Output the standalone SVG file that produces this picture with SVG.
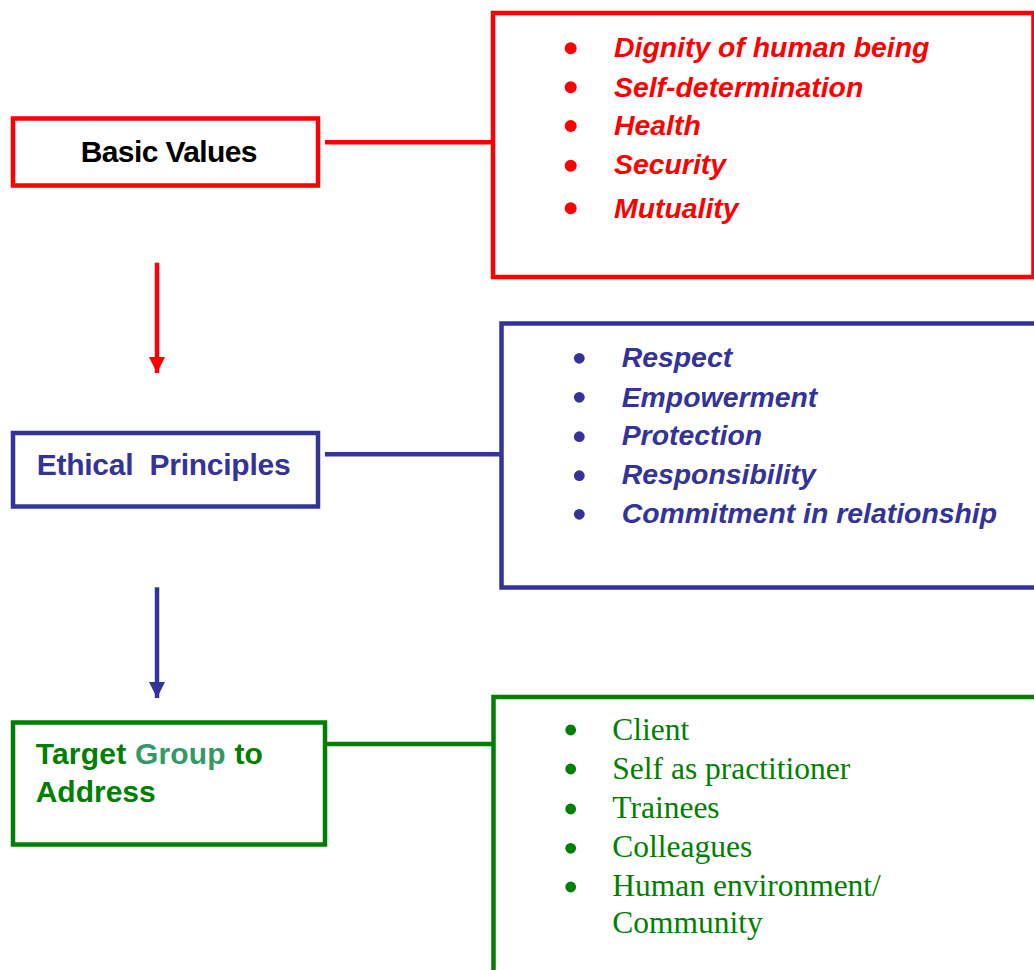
<svg xmlns="http://www.w3.org/2000/svg" width="1034" height="970" viewBox="0 0 1034 970">
<style>
.box{fill:#fff;stroke-width:4.5}
.red{stroke:#ff0000}
.blue{stroke:#333399}
.green{stroke:#008000}
.lbl{font-family:"Liberation Sans",Arial,sans-serif;font-weight:bold;font-size:30px}
.ital{font-family:"Liberation Sans",Arial,sans-serif;font-weight:bold;font-style:italic;font-size:28.4px}
.serif{font-family:"Liberation Serif","Times New Roman",serif;font-size:31.5px;fill:#008000}
.conn{fill:none;stroke-width:4.5}
</style>
<defs>
<marker id="arrRed" viewBox="0 0 16 16" refX="16" refY="8" markerWidth="16" markerHeight="16" markerUnits="userSpaceOnUse" orient="auto"><path d="M0,0 L16,8 L0,16 Z" fill="#ff0000"/></marker>
<marker id="arrBlue" viewBox="0 0 16 16" refX="16" refY="8" markerWidth="16" markerHeight="16" markerUnits="userSpaceOnUse" orient="auto"><path d="M0,0 L16,8 L0,16 Z" fill="#333399"/></marker>
</defs>
<rect width="1034" height="970" fill="#fff"/>
<g id="connectors">
<line class="conn red" x1="325" y1="142.3" x2="493" y2="142.3"/>
<line class="conn blue" x1="325" y1="454.3" x2="501" y2="454.3"/>
<line class="conn green" x1="327" y1="744" x2="493" y2="744"/>
<line class="conn red" x1="157" y1="262.7" x2="157" y2="373" marker-end="url(#arrRed)"/>
<line class="conn blue" x1="157" y1="587.3" x2="157" y2="698" marker-end="url(#arrBlue)"/>
</g>
<g id="basic-values">
<rect class="box red" x="13" y="118.5" width="305" height="67"/>
<text class="lbl" x="80.7" y="161.7" fill="#000" letter-spacing="-0.6">Basic Values</text>
</g>
<g id="values-list">
<rect class="box red" x="493" y="13" width="540.5" height="264"/>
<g fill="#ff0000">
<circle cx="570.7" cy="48.3" r="6"/>
<circle cx="570.7" cy="87.3" r="6"/>
<circle cx="570.7" cy="126" r="6"/>
<circle cx="570.7" cy="165.7" r="6"/>
<circle cx="570.7" cy="208.3" r="6"/>
</g>
<g class="ital" fill="#ff0000">
<text x="614" y="57.3">Dignity of human being</text>
<text x="614" y="96.7">Self-determination</text>
<text x="614" y="135">Health</text>
<text x="614" y="173.5">Security</text>
<text x="614" y="218">Mutuality</text>
</g>
</g>
<g id="ethical-principles">
<rect class="box blue" x="13" y="433" width="305" height="73.5"/>
<text class="lbl" x="36.7" y="475" fill="#333399" letter-spacing="-0.25" style="white-space:pre">Ethical  Principles</text>
</g>
<g id="principles-list">
<rect class="box blue" x="501.5" y="323.5" width="600" height="264"/>
<g fill="#333399">
<circle cx="579.3" cy="358.3" r="5.4"/>
<circle cx="579.3" cy="397.3" r="5.4"/>
<circle cx="579.3" cy="436.7" r="5.4"/>
<circle cx="579.3" cy="475.7" r="5.4"/>
<circle cx="579.3" cy="514.3" r="5.4"/>
</g>
<g class="ital" fill="#333399">
<text x="621.7" y="367">Respect</text>
<text x="621.7" y="406.7">Empowerment</text>
<text x="621.7" y="445">Protection</text>
<text x="621.7" y="483.5">Responsibility</text>
<text x="621.7" y="522.5">Commitment in relationship</text>
</g>
</g>
<g id="target-group">
<rect class="box green" x="13" y="722.5" width="312" height="122"/>
<text class="lbl" x="35.7" y="764" fill="#008000" letter-spacing="0.2">Target <tspan fill="#339966">Group</tspan> to</text>
<text class="lbl" x="35.7" y="802.3" fill="#008000">Address</text>
</g>
<g id="target-list">
<rect class="box green" x="493.5" y="697" width="600" height="400"/>
<g fill="#008000">
<circle cx="570.7" cy="730" r="5.4"/>
<circle cx="570.7" cy="769" r="5.4"/>
<circle cx="570.7" cy="809" r="5.4"/>
<circle cx="570.7" cy="848.3" r="5.4"/>
<circle cx="570.7" cy="887" r="5.4"/>
</g>
<g class="serif">
<text x="612.3" y="740">Client</text>
<text x="612.3" y="779">Self as practitioner</text>
<text x="612.3" y="817.7">Trainees</text>
<text x="612.3" y="856.7">Colleagues</text>
<text x="612.3" y="896">Human environment/</text>
<text x="612.3" y="932.5">Community</text>
</g>
</g>
</svg>
